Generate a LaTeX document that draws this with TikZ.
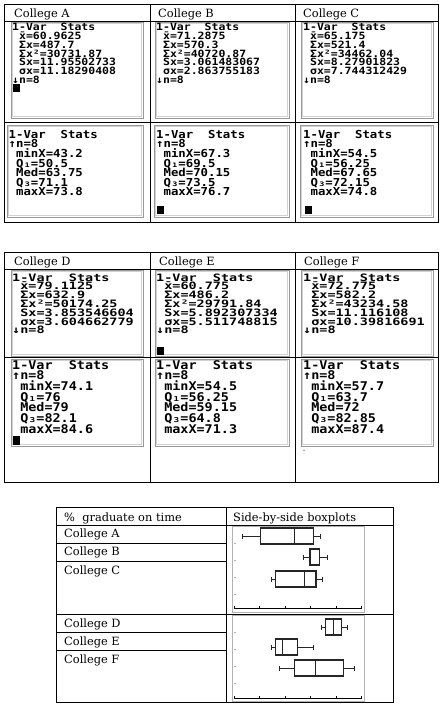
\documentclass[tikz,border=0pt]{standalone}
\usepackage{fontspec}
\setmainfont{DejaVu Serif}
\newfontfamily\calcA[FakeStretch=1.15]{DejaVu Sans Mono Bold}
\newfontfamily\calcB[FakeStretch=1.12]{DejaVu Sans Mono Bold}
\newfontfamily\calcC[FakeStretch=1.32]{DejaVu Sans Mono Bold}
\newcommand\tightlines{\lineskiplimit-20pt\relax}
\definecolor{strayq}{RGB}{70,80,150}
\tikzset{
  grid/.style={line width=0.7pt},
  head/.style={anchor=base west, inner sep=0pt, font=\fontsize{11.4}{13}\selectfont},
  screen/.style={draw=gray!80, line width=0.8pt},
  screenin/.style={draw=gray!35, line width=0.6pt},
  calcone/.style={anchor=north west, inner sep=0pt, align=left,
    font=\calcA\fontsize{10}{8.7}\selectfont\tightlines},
  calctwo/.style={anchor=north west, inner sep=0pt, align=left,
    font=\calcB\fontsize{11}{9.6}\selectfont\tightlines},
  calcthree/.style={anchor=north west, inner sep=0pt, align=left,
    font=\calcC\fontsize{10.2}{8.8}\selectfont\tightlines},
  calcfour/.style={anchor=north west, inner sep=0pt, align=left,
    font=\calcB\fontsize{12}{10.67}\selectfont\tightlines},
  cursor/.style={fill=black},
  plotframe/.style={draw=gray!60, line width=0.8pt},
  boxp/.style={draw=black!85, line width=1.2pt},
  whisk/.style={draw=black!85, line width=0.9pt},
}
\begin{document}
\begin{tikzpicture}[x=1pt,y=-1pt]
  \useasboundingbox (0,0) rectangle (444,710);
  % first table: colleges A, B, C
  \draw[grid] (4,4) rectangle (438,222);
  \draw[grid] (4,21) -- (438,21) (4,122) -- (438,122);
  \draw[grid] (150,4) -- (150,222) (295,4) -- (295,222);
  \node[head] (hdA) at (14,17.5) {College A};
  \node[head] (hdB) at (158,17.5) {College B};
  \node[head] (hdC) at (303,17.5) {College C};
  \draw[screen] (11,22) rectangle (143,118);
  \draw[screen] (155,22) rectangle (289,118);
  \draw[screen] (301,22) rectangle (433,118);
  \draw[screen] (7,125) rectangle (143,217);
  \draw[screen] (154,125) rectangle (289,217);
  \draw[screen] (300,125) rectangle (433,217);
  \draw[screenin] (12.5,23.5) rectangle (141.5,116.5);
  \draw[screenin] (156.5,23.5) rectangle (287.5,116.5);
  \draw[screenin] (302.5,23.5) rectangle (431.5,116.5);
  \draw[screenin] (8.5,126.5) rectangle (141.5,215.5);
  \draw[screenin] (155.5,126.5) rectangle (287.5,215.5);
  \draw[screenin] (301.5,126.5) rectangle (431.5,215.5);
  \node[calcone] (sumA) at (12,23.3) {1-Var~~Stats\\~x̄=60.9625\\~Σx=487.7\\~Σx²=30731.87\\~Sx=11.95502733\\~σx=11.18290408\\↓n=8};
  \node[calcone] (sumB) at (156,23.3) {1-Var~~Stats\\~x̄=71.2875\\~Σx=570.3\\~Σx²=40720.87\\~Sx=3.061483067\\~σx=2.863755183\\↓n=8};
  \node[calcone] (sumC) at (303,23.3) {1-Var~~Stats\\~x̄=65.175\\~Σx=521.4\\~Σx²=34462.04\\~Sx=8.27901823\\~σx=7.744312429\\↓n=8};
  \node[calctwo] (fiveA) at (8.5,130) {1-Var~~Stats\\↑n=8\\~minX=43.2\\~Q₁=50.5\\~Med=63.75\\~Q₃=71.1\\~maxX=73.8};
  \node[calctwo] (fiveB) at (156,130) {1-Var~~Stats\\↑n=8\\~minX=67.3\\~Q₁=69.5\\~Med=70.15\\~Q₃=73.5\\~maxX=76.7};
  \node[calctwo] (fiveC) at (303,130) {1-Var~~Stats\\↑n=8\\~minX=54.5\\~Q₁=56.25\\~Med=67.65\\~Q₃=72.15\\~maxX=74.8};
  \fill[cursor] (13,83.5) rectangle (20,91.5);
  \fill[cursor] (157,205.5) rectangle (164,213.5);
  \fill[cursor] (304.5,206) rectangle (311.5,214);
  % second table: colleges D, E, F
  \draw[grid] (4,252) rectangle (438,482);
  \draw[grid] (4,269) -- (438,269) (4,357.5) -- (438,357.5);
  \draw[grid] (150,252) -- (150,482) (295,252) -- (295,482);
  \node[head] (hdD) at (14,265.5) {College D};
  \node[head] (hdE) at (159,265.5) {College E};
  \node[head] (hdF) at (304,265.5) {College F};
  \draw[screen] (11,270) rectangle (143,356);
  \draw[screen] (155,270) rectangle (289,356);
  \draw[screen] (301,270) rectangle (433,356);
  \draw[screen] (11,359) rectangle (143,446);
  \draw[screen] (155,359) rectangle (289,446);
  \draw[screen] (301,359) rectangle (433,446);
  \draw[screenin] (12.5,271.5) rectangle (141.5,354.5);
  \draw[screenin] (156.5,271.5) rectangle (287.5,354.5);
  \draw[screenin] (302.5,271.5) rectangle (431.5,354.5);
  \draw[screenin] (12.5,360.5) rectangle (141.5,444.5);
  \draw[screenin] (156.5,360.5) rectangle (287.5,444.5);
  \draw[screenin] (302.5,360.5) rectangle (431.5,444.5);
  \node[calcthree] (sumD) at (12,273.3) {1-Var~~Stats\\~x̄=79.1125\\~Σx=632.9\\~Σx²=50174.25\\~Sx=3.853546604\\~σx=3.604662779\\↓n=8};
  \node[calcthree] (sumE) at (156,273.3) {1-Var~~Stats\\~x̄=60.775\\~Σx=486.2\\~Σx²=29791.84\\~Sx=5.892307334\\~σx=5.511748815\\↓n=8};
  \node[calcthree] (sumF) at (303,273.3) {1-Var~~Stats\\~x̄=72.775\\~Σx=582.2\\~Σx²=43234.58\\~Sx=11.116108\\~σx=10.39816691\\↓n=8};
  \node[calcfour] (fiveD) at (12,360) {1-Var~~Stats\\↑n=8\\~minX=74.1\\~Q₁=76\\~Med=79\\~Q₃=82.1\\~maxX=84.6};
  \node[calcfour] (fiveE) at (156,360) {1-Var~~Stats\\↑n=8\\~minX=54.5\\~Q₁=56.25\\~Med=59.15\\~Q₃=64.8\\~maxX=71.3};
  \node[calcfour] (fiveF) at (303,360) {1-Var~~Stats\\↑n=8\\~minX=57.7\\~Q₁=63.7\\~Med=72\\~Q₃=82.85\\~maxX=87.4};
  \fill[cursor] (157,347) rectangle (164,355);
  \fill[cursor] (13,436) rectangle (20,444.5);
  \node[inner sep=0pt, text=strayq, font=\fontsize{6}{6}\selectfont] (quote) at (304,452) {“};
  % third table: boxplots
  \draw[grid] (56,507) rectangle (393,702);
  \draw[grid] (56,525) -- (393,525) (56,614) -- (393,614);
  \draw[grid] (56,543) -- (226,543) (56,561) -- (226,561);
  \draw[grid] (56,632) -- (226,632) (56,650) -- (226,650);
  \draw[grid] (226,507) -- (226,702);
  \node[head] (pct) at (64,521) {\%~ graduate on time};
  \node[head] (side) at (233,521) {Side-by-side boxplots};
  \node[head] (rowA) at (64,537.7) {College A};
  \node[head] (rowB) at (64,555.7) {College B};
  \node[head] (rowC) at (64,574) {College C};
  \node[head] (rowD) at (64,627.7) {College D};
  \node[head] (rowE) at (64,645.7) {College E};
  \node[head] (rowF) at (64,663.7) {College F};
  \draw[plotframe] (232,526) rectangle (364,612);
  \draw[plotframe] (232,615.5) rectangle (364,701);
  \begin{scope}[shift={(132,0)}, x=2.55pt]
    \draw[line width=1pt] (40,608.5) -- (90,608.5) (40,698.5) -- (90,698.5);
    \foreach \t in {40,50,...,90}
      \draw[line width=0.8pt] (\t,608.5) -- (\t,606) (\t,698.5) -- (\t,696);
    \foreach \yt in {543,560,577,594,632,649,666,683}
      \draw[gray!60, line width=0.6pt] (40,\yt) -- (40.8,\yt);
    \foreach \yc/\mn/\qa/\md/\qc/\mx in {536/43.2/50.5/63.75/71.1/73.8,
        557/67.3/69.5/70.15/73.5/76.7, 579/54.5/56.25/67.65/72.15/74.8,
        627/74.1/76/79/82.1/84.6, 647/54.5/56.25/59.15/64.8/71.3,
        668/57.7/63.7/72/82.85/87.4} {
      \draw[whisk] (\mn,\yc) -- (\qa,\yc) (\qc,\yc) -- (\mx,\yc);
      \draw[whisk] (\mn,\yc-2.5) -- (\mn,\yc+2.5) (\mx,\yc-2.5) -- (\mx,\yc+2.5);
      \draw[boxp] (\qa,\yc-8) rectangle (\qc,\yc+8);
      \draw[boxp] (\md,\yc-8) -- (\md,\yc+8);
    }
  \end{scope}
\end{tikzpicture}
\end{document}
